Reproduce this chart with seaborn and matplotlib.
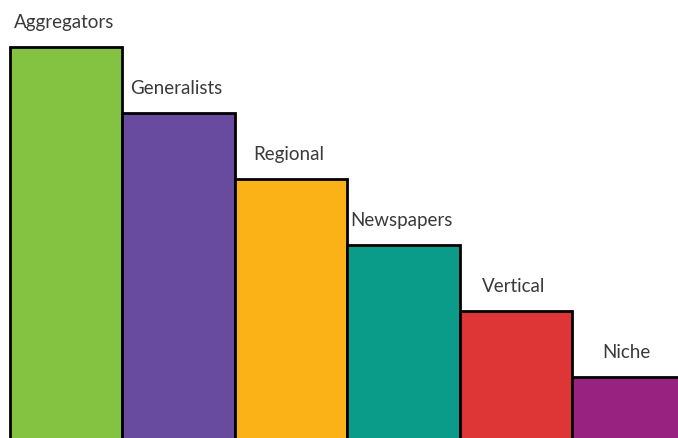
import pandas as pd
import matplotlib.pyplot as plt
import seaborn as sns

sns.set_style("white")
plt.rcParams['font.family'] = ['Lato', 'DejaVu Sans']

# dados
categorias = ['Aggregators', 'Generalists', 'Regional', 'Newspapers', 'Vertical', 'Niche']
valores = [6, 5, 4, 3, 2, 1]
cores = ['#84C341', '#684B9F', '#FBB217', '#0A9C88', '#DE3636', '#98227F']

df = pd.DataFrame({'categoria': categorias, 'valor': valores})

fig = plt.figure(figsize=(6.78, 4.38), dpi=100)
ax = fig.add_axes([0, 0, 1, 1])
sns.barplot(data=df, x='categoria', y='valor', hue='categoria', palette=cores,
            width=1, saturation=1, edgecolor='black', linewidth=2,
            legend=False, ax=ax)

for i, (cat, v) in enumerate(zip(categorias, valores)):
    ax.text(i - 0.02, v + 0.38, cat, ha='center', va='center', fontsize=13.5,
            color='#3a3a3a')

ax.set_xlim(-0.589, 5.44)
ax.set_ylim(0.08, 6.714)
ax.axis('off')

plt.savefig('out.png', dpi=100)
plt.close()
